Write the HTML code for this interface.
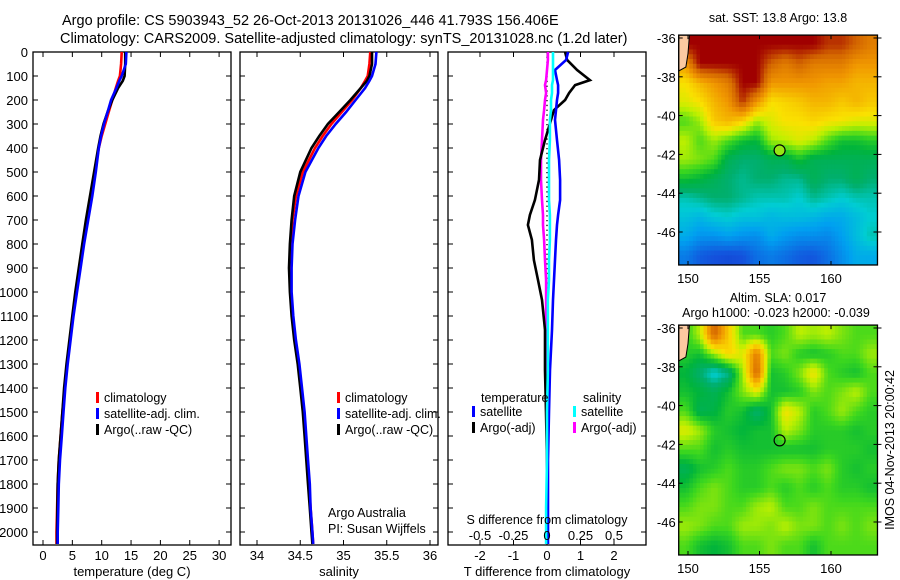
<!DOCTYPE html>
<html><head><meta charset="utf-8"><style>
html,body{margin:0;padding:0;background:#fff;}
svg{display:block;font-family:"Liberation Sans",Arial,sans-serif;}
text{fill:#000;}
</style></head><body>
<svg id="fig" width="900" height="580" viewBox="0 0 900 580">
<text x="62" y="25" font-size="14.5">Argo profile: CS 5903943_52 26-Oct-2013 20131026_446 41.793S 156.406E</text>
<text x="60" y="43" font-size="14.5">Climatology: CARS2009. Satellite-adjusted climatology: synTS_20131028.nc (1.2d later)</text>
</svg>
<script>
// ---- profile data ----
const depths=[0,50,100,120,150,200,250,300,350,400,500,600,700,800,900,1000,1100,1200,1300,1400,1500,1600,1700,1800,1900,2000,2050];
const tempClim=[13.4,13.3,13.1,12.8,12.4,11.8,11.2,10.6,10.0,9.5,8.8,8.1,7.4,6.8,6.2,5.6,5.1,4.6,4.1,3.7,3.3,3.0,2.7,2.5,2.4,2.3,2.3];
const tempSat=[14.2,14.1,13.4,13.0,12.5,11.6,11.0,10.4,9.9,9.5,9.0,8.4,7.7,7.0,6.4,5.8,5.2,4.7,4.2,3.8,3.5,3.2,2.9,2.7,2.6,2.5,2.5];
const tempArgo=[14.0,14.0,13.9,13.6,12.8,11.8,11.0,10.3,9.8,9.4,8.7,8.0,7.3,6.7,6.1,5.5,5.0,4.5,4.0,3.6,3.3,3.0,2.7,2.5,2.45,2.4,2.4];
const salClim=[35.31,35.3,35.28,35.25,35.2,35.1,34.98,34.86,34.76,34.67,34.53,34.45,34.41,34.39,34.38,34.39,34.41,34.44,34.48,34.51,34.54,34.56,34.58,34.6,34.62,34.64,34.65];
const salSat=[35.38,35.37,35.33,35.3,35.25,35.14,35.03,34.91,34.8,34.71,34.56,34.48,34.44,34.41,34.4,34.4,34.42,34.45,34.49,34.52,34.55,34.57,34.59,34.61,34.62,34.64,34.65];
const salArgo=[35.33,35.33,35.3,35.27,35.2,35.08,34.95,34.82,34.72,34.63,34.5,34.43,34.4,34.38,34.37,34.38,34.4,34.43,34.47,34.5,34.53,34.55,34.57,34.59,34.61,34.63,34.64];
const diffDepth=[0,33,75,117,138,171,200,242,283,367,450,533,617,679,721,783,867,950,1033,1158,1325,1500,1700,1900,2050];
const tDiffArgo=[0.54,0.6,0.9,1.28,0.84,0.66,0.54,0.21,0.12,-0.06,-0.21,-0.24,-0.36,-0.51,-0.57,-0.45,-0.39,-0.27,-0.15,-0.06,-0.06,-0.03,0,0,0];
const tDiffSat=[0.63,0.57,0.24,0.3,0.33,0.33,0.3,0.27,0.24,0.3,0.36,0.39,0.39,0.33,0.3,0.27,0.24,0.21,0.18,0.15,0.09,0.06,0.03,0.03,0.03];
const sDiffArgo=[0.007,0.007,0,-0.007,-0.015,-0.007,-0.015,-0.022,-0.03,-0.037,-0.045,-0.045,-0.037,-0.03,-0.03,-0.022,-0.015,-0.007,-0.007,-0.007,-0.007,0,0,0,0];
const sDiffSat=[0.045,0.045,0.045,0.045,0.037,0.037,0.03,0.03,0.022,0.022,0.015,0.015,0.015,0.022,0.022,0.022,0.015,0.015,0.007,0.007,0.007,0,0,-0.007,-0.007];
const depthTicks=[0,100,200,300,400,500,600,700,800,900,1000,1100,1200,1300,1400,1500,1600,1700,1800,1900,2000];
const tempTicks=[0,5,10,15,20,25,30];
const salTicks=[34,34.5,35,35.5,36];
const salTickLabels=["34","34.5","35","35.5","36"];
const tdTicks=[-2,-1,0,1,2];
const tdTickLabels=["-2","-1","0","1","2"];
const sdTickLabels=["-0.5","-0.25","0","0.25","0.5"];
// ---- map data ----
const mapLons=[149.35,163.25];
const mapLats=[-35.85,-47.7];
const sstGrid=[
[1,1,1,1,1,1,1,1,1,1,0.95,0.95,0.9,0.85],
[0.8,1,1,1,1,1,0.9,0.85,0.9,0.85,0.85,0.85,0.8,0.8],
[0.68,0.75,0.8,0.85,1,1,0.8,0.8,0.8,0.8,0.78,0.78,0.75,0.75],
[0.65,0.68,0.75,0.8,0.95,0.8,0.68,0.7,0.72,0.75,0.75,0.72,0.75,0.72],
[0.55,0.6,0.72,0.75,0.7,0.6,0.65,0.68,0.68,0.7,0.68,0.67,0.65,0.65],
[0.62,0.55,0.6,0.55,0.5,0.48,0.6,0.62,0.65,0.62,0.55,0.5,0.5,0.52],
[0.6,0.58,0.55,0.45,0.42,0.42,0.45,0.45,0.5,0.45,0.45,0.45,0.45,0.45],
[0.5,0.48,0.45,0.42,0.4,0.42,0.42,0.4,0.4,0.45,0.42,0.42,0.45,0.42],
[0.38,0.4,0.42,0.42,0.4,0.38,0.38,0.38,0.36,0.4,0.38,0.36,0.38,0.38],
[0.34,0.32,0.35,0.36,0.34,0.34,0.32,0.33,0.33,0.32,0.3,0.3,0.33,0.36],
[0.3,0.26,0.26,0.28,0.26,0.25,0.3,0.27,0.25,0.25,0.24,0.28,0.33,0.38],
[0.22,0.17,0.15,0.14,0.15,0.2,0.22,0.2,0.17,0.16,0.2,0.25,0.3,0.3]];
const slaGrid=[
[0.52,0.62,0.9,0.72,0.55,0.55,0.52,0.55,0.62,0.6,0.62,0.58,0.55,0.55],
[0.52,0.5,0.6,0.7,0.65,0.85,0.55,0.58,0.52,0.5,0.52,0.55,0.55,0.6],
[0.48,0.42,0.35,0.4,0.6,0.9,0.5,0.52,0.58,0.68,0.55,0.52,0.5,0.55],
[0.5,0.48,0.45,0.5,0.58,0.65,0.5,0.5,0.52,0.58,0.55,0.58,0.62,0.55],
[0.55,0.45,0.47,0.52,0.5,0.42,0.5,0.68,0.62,0.52,0.55,0.6,0.55,0.52],
[0.65,0.6,0.52,0.5,0.48,0.5,0.5,0.62,0.58,0.52,0.52,0.52,0.5,0.52],
[0.55,0.55,0.5,0.52,0.5,0.5,0.5,0.5,0.5,0.5,0.52,0.52,0.52,0.5],
[0.45,0.5,0.52,0.55,0.52,0.52,0.55,0.58,0.58,0.55,0.58,0.52,0.5,0.52],
[0.5,0.55,0.58,0.55,0.52,0.52,0.55,0.52,0.55,0.52,0.55,0.52,0.52,0.5],
[0.55,0.58,0.58,0.55,0.55,0.6,0.62,0.55,0.55,0.58,0.55,0.55,0.55,0.55],
[0.6,0.58,0.55,0.55,0.6,0.6,0.58,0.62,0.58,0.58,0.55,0.58,0.55,0.58],
[0.55,0.5,0.48,0.5,0.55,0.55,0.58,0.55,0.55,0.5,0.55,0.55,0.55,0.55]];
const argoLon=156.406, argoLat=-41.793;
const lonTicks=[150,155,160];
const latTicks=[-36,-38,-40,-42,-44,-46];

const NS="http://www.w3.org/2000/svg";
const svg=document.getElementById('fig');
function el(tag,attrs,parent){const e=document.createElementNS(NS,tag);for(const k in attrs)e.setAttribute(k,attrs[k]);(parent||svg).appendChild(e);return e;}
function txt(x,y,s,size,anchor,parent){const t=el('text',{x:x,y:y,'font-size':size||13,'text-anchor':anchor||'start'},parent);t.textContent=s;return t;}

const PT=52,PB=545;
const yD=d=>PT+d*0.24;
function panel(name,x0,x1){
  const g=el('g',{});
  
  
  const r=el('rect',{x:x0,y:PT,width:x1-x0,height:PB-PT,fill:'none',stroke:'#000','stroke-width':1.3},g);
  
  
  depthTicks.forEach(d=>{el('line',{x1:x0,x2:x0+5,y1:yD(d),y2:yD(d),stroke:'#000'},g);el('line',{x1:x1-5,x2:x1,y1:yD(d),y2:yD(d),stroke:'#000'},g);});
  return g;
}
function xticks(g,vals,fx){vals.forEach(v=>{const x=fx(v);el('line',{x1:x,x2:x,y1:PT,y2:PT+5,stroke:'#000'},g);el('line',{x1:x,x2:x,y1:PB-5,y2:PB,stroke:'#000'},g);});}
function line(g,name,xs,ds,fx,color,w){
  const pts=xs.map((v,i)=>fx(v).toFixed(1)+','+yD(ds[i]).toFixed(1)).join(' ');
  const p=el('polyline',{points:pts,fill:'none',stroke:color,'stroke-width':w||2.6,'stroke-linejoin':'miter'},g);
  
  
}
function legend(g,x,y,items){items.forEach((it,i)=>{el('rect',{x:x,y:y+i*16-10,width:3,height:11,fill:it[1]},g);const t=txt(x+8,y+i*16,it[0],12.5,'start',g);});}

// Panel 1: temperature
const xT=v=>43+v*5.87;
const g1=panel('temperature-panel',33,231);
depthTicks.forEach(d=>{const t=txt(28,yD(d)+5,String(d),13,'end',g1);});
xticks(g1,tempTicks,xT);
tempTicks.forEach(v=>{const t=txt(xT(v),560,String(v),13,'middle',g1);});
{const t=txt(132,576,'temperature (deg C)',13,'middle',g1);}
line(g1,'temp-climatology',tempClim,depths,xT,'#f00');
line(g1,'temp-argo',tempArgo,depths,xT,'#000');
line(g1,'temp-satellite',tempSat,depths,xT,'#00f');
legend(g1,96,402,[['climatology','#f00'],['satellite-adj. clim.','#00f'],['Argo(..raw -QC)','#000']]);

// Panel 2: salinity
const xS=v=>257+(v-34)*86.5;
const g2=panel('salinity-panel',240,438);
xticks(g2,salTicks,xS);
salTicks.forEach((v,i)=>{const t=txt(xS(v),560,salTickLabels[i],13,'middle',g2);});
{const t=txt(339,576,'salinity',13,'middle',g2);}
line(g2,'sal-climatology',salClim,depths,xS,'#f00');
line(g2,'sal-argo',salArgo,depths,xS,'#000');
line(g2,'sal-satellite',salSat,depths,xS,'#00f');
legend(g2,337,402,[['climatology','#f00'],['satellite-adj. clim.','#00f'],['Argo(..raw -QC)','#000']]);
{const t=txt(328,517,'Argo Australia',12.5,'start',g2);
 const t2=txt(328,533,'PI: Susan Wijffels',12.5,'start',g2);}

// Panel 3: differences
const xTD=v=>547+v*33.5;
const xSD=v=>547+v*134;
const g3=panel('difference-panel',448,646);
xticks(g3,tdTicks,xTD);
el('line',{x1:547,x2:547,y1:PT,y2:PB,stroke:'#000','stroke-dasharray':'1.3,3.5','stroke-width':1.3},g3);
line(g3,'sdiff-argo',sDiffArgo,diffDepth,xSD,'#f0f');
line(g3,'tdiff-argo',tDiffArgo,diffDepth,xTD,'#000');
line(g3,'tdiff-satellite',tDiffSat,diffDepth,xTD,'#00f');
line(g3,'sdiff-satellite',sDiffSat,diffDepth,xSD,'#0ff');
tdTicks.forEach((v,i)=>{const t=txt(xTD(v),560,tdTickLabels[i],13,'middle',g3);
 const s=txt(xTD(v),540,sdTickLabels[i],13,'middle',g3);});
{const t=txt(547,524,'S difference from climatology',12.5,'middle',g3);
 const t2=txt(547,576,'T difference from climatology',13,'middle',g3);}
{const a=txt(481,402,'temperature',12.5,'start',g3);
 const b=txt(583,402,'salinity',12.5,'start',g3);}
legend(g3,472,416,[['satellite','#00f'],['Argo(-adj)','#000']]);
legend(g3,573,416,[['satellite','#0ff'],['Argo(-adj)','#f0f']]);

// ---- maps ----
const cstops=[[0,[10,35,160]],[0.15,[20,80,220]],[0.28,[0,160,240]],[0.36,[0,205,210]],[0.42,[0,175,110]],[0.48,[0,180,60]],[0.54,[60,215,30]],[0.62,[190,240,0]],[0.68,[250,225,0]],[0.8,[240,150,0]],[0.9,[210,100,0]],[1,[160,0,0]]];
function cmap(v){for(let i=1;i<cstops.length;i++){if(v<=cstops[i][0]){const a=cstops[i-1],b=cstops[i],f=(v-a[0])/(b[0]-a[0]);return 'rgb('+a[1].map((c,k)=>Math.round(c+(b[1][k]-c)*f)).join(',')+')';}}return 'rgb(160,0,0)';}
function sample(grid,fr,fc){
  const nr=grid.length,nc=grid[0].length;
  fr=Math.max(0,Math.min(nr-1,fr));fc=Math.max(0,Math.min(nc-1,fc));
  const r0=Math.floor(fr),c0=Math.floor(fc),r1=Math.min(nr-1,r0+1),c1=Math.min(nc-1,c0+1),dr=fr-r0,dc=fc-c0;
  return grid[r0][c0]*(1-dr)*(1-dc)+grid[r0][c1]*(1-dr)*dc+grid[r1][c0]*dr*(1-dc)+grid[r1][c1]*dr*dc;
}
function drawMap(name,grid,oy,title1,title2,markerFill){
  const g=el('g',{});
  
  
  const lx=lon=>688+(lon-150)*14.3, ly=lat=>oy+38+(-36-lat)*19.4;
  const x0=lx(mapLons[0]),x1=lx(mapLons[1]),y0=ly(mapLats[0]),y1=ly(mapLats[1]);
  const nr=grid.length,nc=grid[0].length,S=4,cw=(x1-x0)/(nc*S),ch=(y1-y0)/(nr*S);
  for(let r=0;r<nr*S;r++)for(let c=0;c<nc*S;c++){
    const v=sample(grid,(r+0.5)/S-0.5,(c+0.5)/S-0.5);
    const cell=el('rect',{x:(x0+c*cw).toFixed(2),y:(y0+r*ch).toFixed(2),width:(cw+0.5).toFixed(2),height:(ch+0.5).toFixed(2),fill:cmap(v)},g);
    
    
  }
  const land=el('polygon',{points:[[x0,y0],[lx(150.1),y0],[lx(150.0),ly(-36.8)],[lx(149.85),ly(-37.5)],[x0,ly(-37.7)]].map(p=>p.join(',')).join(' '),fill:'#fbc9a0',stroke:'#000','stroke-width':1},g);
  
  
  el('rect',{x:x0,y:y0,width:x1-x0,height:y1-y0,fill:'none',stroke:'#000','stroke-width':1.3},g);
  lonTicks.forEach(v=>{const x=lx(v);el('line',{x1:x,x2:x,y1:y0,y2:y0+4,stroke:'#000'},g);el('line',{x1:x,x2:x,y1:y1-4,y2:y1,stroke:'#000'},g);
    const t=txt(x,y1+18,String(v),13,'middle',g);});
  latTicks.forEach(v=>{const y=ly(v);el('line',{x1:x0,x2:x0+4,y1:y,y2:y,stroke:'#000'},g);el('line',{x1:x1-4,x2:x1+4,y1:y,y2:y,stroke:'#000'},g);
    const t=txt(x0-3,y+5,String(v),13,'end',g);});
  const m=el('circle',{cx:lx(argoLon),cy:ly(argoLat),r:5.5,fill:markerFill,stroke:'#000','stroke-width':1.2},g);
  
  
  const t1=txt(778,oy+(title2?12:22),title1,12.5,'middle',g);
  if(title2){const t2=txt(776,oy+27,title2,12.5,'middle',g);}
}
drawMap('sst-map',sstGrid,0,'sat. SST: 13.8 Argo: 13.8',null,'rgb(150,230,20)');
drawMap('sla-map',slaGrid,290,'Altim. SLA: 0.017','Argo h1000: -0.023 h2000: -0.039','none');
{const t=el('text',{x:0,y:0,'font-size':12.5,'text-anchor':'middle',transform:'translate(894,450) rotate(-90)'});t.textContent='IMOS 04-Nov-2013 20:00:42';
 
 }
</script>
</body></html>
